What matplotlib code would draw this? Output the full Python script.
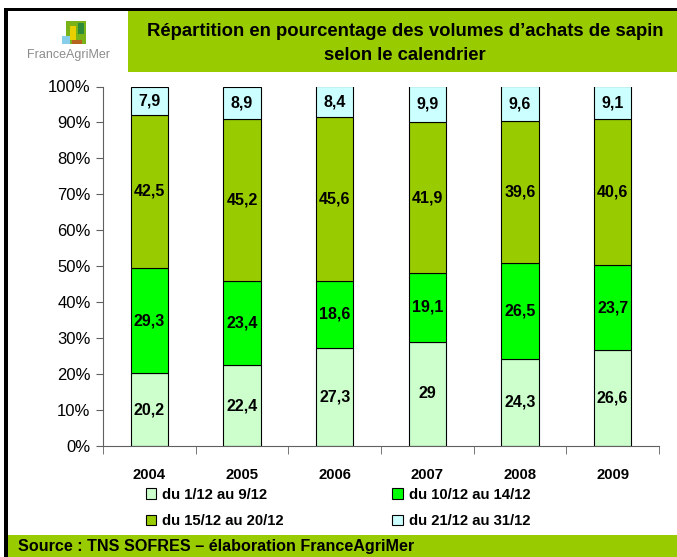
import numpy as np
import matplotlib.pyplot as plt
from matplotlib.patches import Rectangle

plt.rcParams["font.family"] = ["Liberation Sans", "DejaVu Sans"]

years = ["2004", "2005", "2006", "2007", "2008", "2009"]
periode1 = [20.2, 22.4, 27.3, 29, 24.3, 26.6]
periode2 = [29.3, 23.4, 18.6, 19.1, 26.5, 23.7]
periode3 = [42.5, 45.2, 45.6, 41.9, 39.6, 40.6]
periode4 = [7.9, 8.9, 8.4, 9.9, 9.6, 9.1]
labels = ["du 1/12 au 9/12", "du 10/12 au 14/12", "du 15/12 au 20/12", "du 21/12 au 31/12"]
colors = ["#CCFFCC", "#00FF00", "#99CC00", "#CCFFFF"]

W, H = 677, 557
fig = plt.figure(figsize=(W / 100, H / 100), dpi=100)

# frame and green bands (pixel coords converted to figure fraction)
def box(x0, y0, x1, y1, color):
    fig.patches.append(Rectangle((x0 / W, 1 - y1 / H), (x1 - x0) / W, (y1 - y0) / H,
                                 transform=fig.transFigure, facecolor=color,
                                 edgecolor="none", zorder=0))

box(128, 11, W, 72, "#99CC00")
box(5, 535, W, H, "#99CC00")
box(5, 8, W, 11, "black")
box(4, 8, 8, H, "black")

fig.text(405 / W, 1 - 31 / H, "Répartition en pourcentage des volumes d\u2019achats de sapin",
         ha="center", va="center", fontsize=13.3, fontweight="bold")
fig.text(405 / W, 1 - 56 / H, "selon le calendrier",
         ha="center", va="center", fontsize=13.3, fontweight="bold")

# logo
box(66, 21, 86, 44, "#7AB317")
box(70, 26, 76, 40, "#E8D000")
box(78, 23, 84, 34, "#2E8B3A")
box(62, 36, 70, 44, "#87CEEB")
box(72, 40, 82, 44, "#B5651D")
fig.text(68 / W, 1 - 55 / H, "FranceAgriMer", ha="center", va="center",
         fontsize=9, color="#8C8C8C")

fig.text(18 / W, 1 - 547 / H, "Source : TNS SOFRES \u2013 élaboration FranceAgriMer",
         ha="left", va="center", fontsize=11.6, fontweight="bold")

ax = fig.add_axes([103 / W, 1 - 446 / H, (659 - 103) / W, (446 - 86.5) / H])

series = [periode1, periode2, periode3, periode4]
totals = np.sum(series, axis=0)
x = np.arange(len(years))
bottom = np.zeros(len(years))
handles = []
for vals, col, lab in zip(series, colors, labels):
    pct = np.array(vals) / totals * 100
    b = ax.bar(x, pct, 0.4, bottom=bottom, color=col, edgecolor="black",
               linewidth=0.8, label=lab)
    handles.append(b)
    for xi, p, bt, v in zip(x, pct, bottom, vals):
        ax.text(xi, bt + p / 2, f"{v:g}".replace(".", ","), ha="center", va="center",
                fontsize=11.5, fontweight="bold")
    bottom += pct

ax.set_xlim(-0.5, 5.5)
ax.set_ylim(0, 100)
ax.set_yticks(np.arange(0, 101, 10))
ax.set_yticklabels([f"{v}%" for v in range(0, 101, 10)], fontsize=12)
ax.set_xticks(x)
ax.set_xticklabels(years, fontsize=10.7, fontweight="bold")
ax.set_xticks(np.arange(-0.5, 6, 1), minor=True)
ax.tick_params(axis="x", which="major", length=0, pad=16)
ax.tick_params(axis="x", which="minor", length=6, color="#606060", direction="out")
ax.tick_params(axis="y", length=5, color="#606060", direction="out", pad=4)
for s in ["top", "right"]:
    ax.spines[s].set_visible(False)
for s in ["left", "bottom"]:
    ax.spines[s].set_color("#606060")

order = [0, 2, 1, 3]
fig.legend([handles[i] for i in order], [labels[i] for i in order], ncol=2,
           loc="center", bbox_to_anchor=(338 / W, 1 - 508 / H), frameon=False,
           prop={"size": 10.7, "weight": "bold"}, handlelength=0.7, handleheight=0.7,
           handletextpad=0.4, columnspacing=7.3, labelspacing=0.85)

fig.savefig("out.png", dpi=100)
